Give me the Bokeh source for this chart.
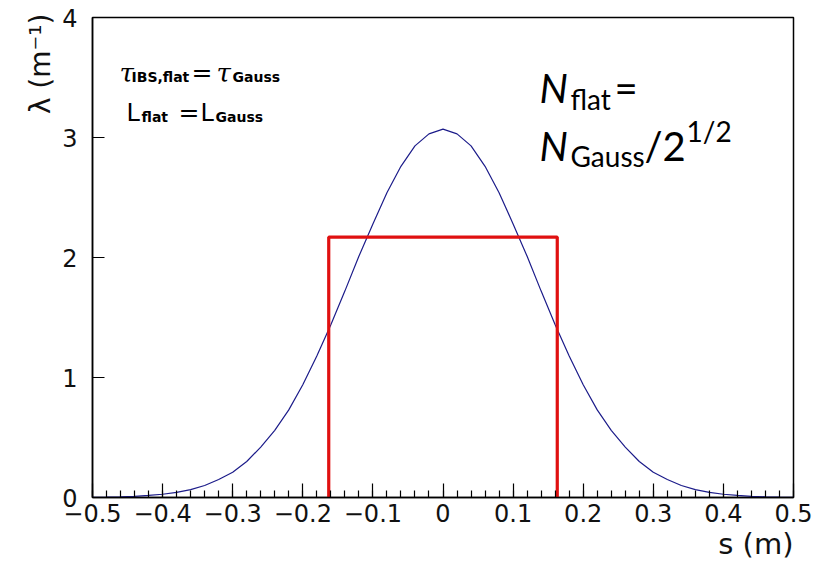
from bokeh.plotting import figure
from bokeh.models import Label, SingleIntervalTicker, FixedTicker, CustomJSTickFormatter, Range1d, Title
from bokeh.embed import file_html
from bokeh.resources import INLINE

# ---------------- data ----------------
s_values = [-0.50, -0.48, -0.46, -0.44, -0.42, -0.40, -0.38, -0.36, -0.34, -0.32,
            -0.30, -0.28, -0.26, -0.24, -0.22, -0.20, -0.18, -0.16, -0.14, -0.12,
            -0.10, -0.08, -0.06, -0.04, -0.02, 0.00, 0.02, 0.04, 0.06, 0.08,
            0.10, 0.12, 0.14, 0.16, 0.18, 0.20, 0.22, 0.24, 0.26, 0.28,
            0.30, 0.32, 0.34, 0.36, 0.38, 0.40, 0.42, 0.44, 0.46, 0.48, 0.50]
lambda_gauss = [0.002, 0.003, 0.006, 0.010, 0.017, 0.027, 0.043, 0.066, 0.10, 0.15,
                0.21, 0.30, 0.42, 0.56, 0.73, 0.94, 1.18, 1.44, 1.72, 2.01,
                2.28, 2.54, 2.76, 2.93, 3.03, 3.07, 3.03, 2.93, 2.76, 2.54,
                2.28, 2.01, 1.72, 1.44, 1.18, 0.94, 0.73, 0.56, 0.42, 0.30,
                0.21, 0.15, 0.10, 0.066, 0.043, 0.027, 0.017, 0.010, 0.006, 0.003, 0.002]
flat_edges = [-0.163, 0.163]
flat_height = 2.17
x_range_vals = [-0.5, 0.5]
y_range_vals = [0, 4]
y_ticks = [0, 1, 2, 3, 4]
x_title = "s (m)"
y_title = "λ (m⁻¹)"

# ---------------- layout helpers ----------------
FL, FR, FT, FB = 92, 793, 17, 497  # frame edges in pixels
SHIFT = 12  # compensation for the baseline placement of labels


def dx(px):
    return x_range_vals[0] + (px - FL) / (FR - FL) * (x_range_vals[1] - x_range_vals[0])


def dy(py):
    py = py - SHIFT
    return y_range_vals[0] + (FB - py) / (FB - FT) * (y_range_vals[1] - y_range_vals[0])


p = figure(width=831, height=570,
           x_range=Range1d(*x_range_vals), y_range=Range1d(*y_range_vals),
           min_border_left=FL, min_border_right=831 - FR,
           min_border_top=FT, min_border_bottom=570 - FB,
           output_backend="svg", toolbar_location=None)
p.xgrid.visible = False
p.ygrid.visible = False
p.background_fill_color = "white"
p.border_fill_color = "white"
p.outline_line_color = "black"
p.outline_line_width = 1.5

# x axis
xa = p.xaxis[0]
xa.ticker = SingleIntervalTicker(interval=0.1, num_minor_ticks=5)
xa.formatter = CustomJSTickFormatter(code="""
const v = Math.round(tick * 10) / 10;
if (v === 0) return '0';
return v.toFixed(1).replace('-', '\u2212');
""")
xa.major_tick_in = 14
xa.major_tick_out = 0
xa.minor_tick_in = 7
xa.minor_tick_out = 0
xa.axis_line_width = 1.5
xa.major_tick_line_width = 1.2
xa.minor_tick_line_width = 1.2
xa.major_label_text_font = "DejaVu Sans"
xa.major_label_text_font_size = "24px"
xa.major_label_text_color = "#111111"
xa.major_label_standoff = 6

# y axis
ya = p.yaxis[0]
ya.ticker = FixedTicker(ticks=y_ticks, minor_ticks=[])
ya.major_tick_in = 12
ya.major_tick_out = 0
ya.minor_tick_in = 0
ya.minor_tick_out = 0
ya.axis_line_width = 1.5
ya.major_tick_line_width = 1.2
ya.major_label_text_font = "DejaVu Sans"
ya.major_label_text_font_size = "24px"
ya.major_label_text_color = "#111111"
ya.major_label_standoff = 15

# curves
p.line(s_values, lambda_gauss, line_color="#1c1c8a", line_width=1.2)
p.line([flat_edges[0], flat_edges[0], flat_edges[1], flat_edges[1]],
       [0, flat_height, flat_height, 0], line_color="#e01010", line_width=3.2)

# axis titles as side-panel titles
p.add_layout(Title(text=x_title, align="right", text_font="DejaVu Sans",
                   text_font_size="29px", text_font_style="normal",
                   text_color="#111111", standoff=0), "below")
p.add_layout(Title(text=y_title, align="right", text_font="DejaVu Sans",
                   text_font_size="28px", text_font_style="normal",
                   text_color="#111111", standoff=6, offset=-4), "left")


def lab(px, py, text, font, size, style="normal", align="left"):
    p.add_layout(Label(x=dx(px), y=dy(py), text=text, text_align=align,
                       text_baseline="alphabetic", text_font=font,
                       text_font_size=size, text_font_style=style, text_color="black"))


# ROOT-style annotations (top left)
lab(119, 84, "τ", "DejaVu Serif", "26px", "italic")
lab(131, 88, "IBS,flat", "DejaVu Sans", "14px", "bold")
lab(191, 84, "=", "DejaVu Sans", "25px")
lab(216, 84, "τ", "DejaVu Serif", "26px", "italic")
lab(232, 88, "Gauss", "DejaVu Sans", "14px", "bold")
lab(126, 124, "L", "DejaVu Sans", "24px")
lab(141, 128, "flat", "DejaVu Sans", "14px", "bold")
lab(178, 124, "=", "DejaVu Sans", "25px")
lab(200, 124, "L", "DejaVu Sans", "24px")
lab(215, 128, "Gauss", "DejaVu Sans", "14px", "bold")

# Calibri-style annotation (top right)
lab(539, 99, "N", "Lato", "40px", "italic")
lab(570, 110, "flat", "Lato", "28px")
lab(614, 99, "=", "Lato", "40px")
lab(539, 157, "N", "Lato", "40px", "italic")
lab(570, 167, "Gauss", "Lato", "28px")
lab(644, 157, "/2", "Lato", "40px")
lab(686, 142, "1/2", "Lato", "28px")

open("out.html", "w", encoding="utf-8").write(file_html(p, INLINE))
